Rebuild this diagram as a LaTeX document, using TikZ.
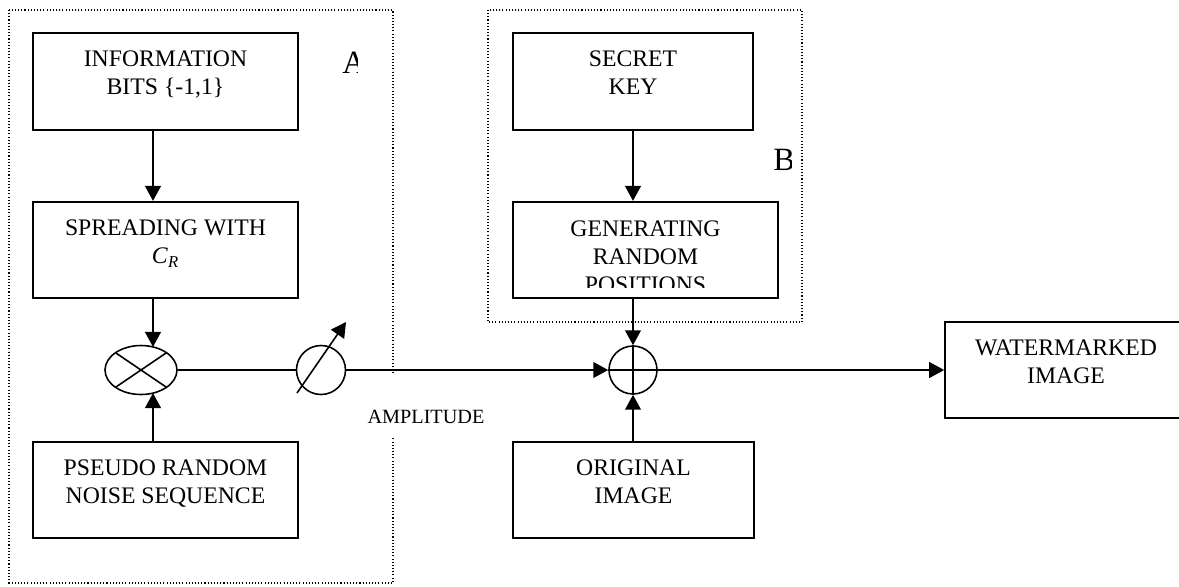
\documentclass[tikz,border=0pt]{standalone}
\usepackage{fontspec}
\setmainfont{Liberation Serif}
\usetikzlibrary{arrows.meta}
\usetikzlibrary{shapes.geometric}

\newcommand{\boxfont}{\fontsize{13.5pt}{15.9pt}\selectfont}

\begin{document}
\begin{tikzpicture}[x=0.02cm,y=-0.02cm,
	blk/.style={draw,line width=1pt,minimum height=1.93cm,inner sep=0pt},
	txt/.style={font=\boxfont,align=center,inner sep=0pt,anchor=north,yshift=-10.5pt},
	ln/.style={line width=0.9pt},
	arr/.style={ln,-{Triangle[length=8.5pt,width=9pt]}},
	grp/.style={draw,line width=0.6pt,dash pattern=on 0.6pt off 1.2pt}]
	
	\useasboundingbox (0,0) rectangle (1179,586);
	
	\draw[grp] (9,10) rectangle (393,583);
	\draw[grp] (488,10) rectangle (802,322);
	
	\node[blk,minimum width=5.3cm,label={[txt]north:{INFORMATION\\BITS \{-1,1\}}}] (info) at (165.5,81.5) {};
	\node[blk,minimum width=5.3cm,label={[txt]north:{SPREADING WITH\\\textit{C}\textsubscript{\textit{R}}}}] (spread) at (165.5,250) {};
	\node[blk,minimum width=5.3cm,label={[txt]north:{PSEUDO RANDOM\\NOISE SEQUENCE}}] (pseudo) at (165.5,490) {};
	\node[blk,minimum width=4.8cm,label={[txt]north:{SECRET\\KEY}}] (secret) at (633,81.5) {};
	\node[blk,minimum width=5.3cm] (gen) at (645.5,250) {};
	\node[blk,minimum width=4.82cm,label={[txt]north:{ORIGINAL\\IMAGE}}] (orig) at (633.5,490) {};
	\node[blk,minimum width=4.84cm,label={[txt]north:{WATERMARKED\\IMAGE}}] (wm) at (1066,370) {};
	
	\begin{scope}
		\clip (500,195) rectangle (790,287.5);
		\node[txt,yshift=-0.8pt] (gentxt) at (gen.north) {GENERATING\\RANDOM\\POSITIONS};
	\end{scope}
	
	\node[ellipse,draw,ln,minimum width=1.44cm,minimum height=0.98cm,inner sep=0pt] (mul) at (141,370) {};
	\node[circle,draw,ln,minimum size=0.98cm,inner sep=0pt] (amp) at (321,370) {};
	\node[circle,draw,ln,minimum size=0.96cm,inner sep=0pt] (plus) at (633,370) {};
	
	\draw[ln,shift={(mul.center)}] (-25.5,-17.3) -- (25.5,17.3) (-25.5,17.3) -- (25.5,-17.3);
	\draw[ln] (plus.north) -- (plus.south) (plus.west) -- (plus.east);
	\draw[arr,shift={(amp.center)}] (-24,23) -- (25,-48);
	
	\coordinate (ax) at (153,0);
	\coordinate (mtop) at (153,346.9);
	\coordinate (mbot) at (153,393.1);
	
	\draw[arr] (info.south -| ax) -- (spread.north -| ax);
	\draw[arr] (spread.south -| ax) -- (mtop);
	\draw[arr] (pseudo.north -| ax) -- (mbot);
	\draw[ln] (mul.east) -- (amp.west);
	\draw[arr] (amp.east) -- (plus.west);
	\draw[arr] (secret.south) -- (gen.north -| secret.south);
	\draw[arr] (gen.south -| plus) -- (plus.north);
	\draw[arr] (orig.north -| plus) -- (plus.south);
	\draw[arr] (plus.east) -- (wm.west);
	
	\node[fill=white,font=\fontsize{11.5pt}{13pt}\selectfont,anchor=base,text height=1cm,text depth=0.28cm,inner xsep=0.06cm,inner ysep=0pt] (ampl) at (426,423) {AMPLITUDE};
	
	\begin{scope}
		\clip (300,20) rectangle (357,100);
		\node[font=\fontsize{18.5pt}{20pt}\selectfont,anchor=base west,inner sep=0pt] (lblA) at (342,73) {A};
	\end{scope}
	\begin{scope}
		\clip (760,130) rectangle (791,200);
		\node[font=\fontsize{18.5pt}{20pt}\selectfont,anchor=base west,inner sep=0pt] (lblB) at (773,170) {B};
	\end{scope}
	
\end{tikzpicture}
\end{document}
